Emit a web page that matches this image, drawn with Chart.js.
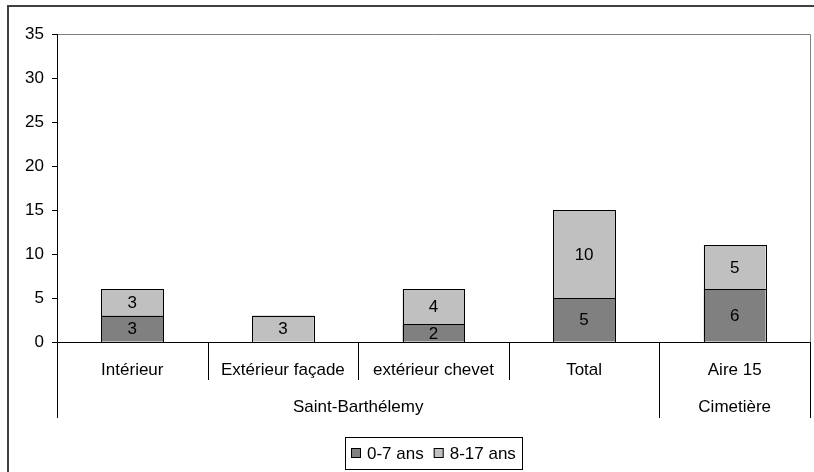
<!DOCTYPE html>
<html>
<head>
<meta charset="utf-8">
<script src="https://cdn.jsdelivr.net/npm/chart.js@4"></script>
<style>
  body { margin: 0; background: #fff; }
</style>
</head>
<body>
<canvas id="chart" width="814" height="472"></canvas>
<script>
// data
const categories = ['Intérieur', 'Extérieur façade', 'extérieur chevet', 'Total', 'Aire 15'];
const groups = ['Saint-Barthélemy', 'Cimetière'];
const groupSpans = [4, 1];
const seriesNames = ['0-7 ans', '8-17 ans'];
const young = [3, 0, 2, 5, 6];
const older = [3, 3, 4, 10, 5];
const yMax = 35;
const yStep = 5;

const FONT = "'Liberation Sans', Arial, sans-serif";
const FS = 17;

// frame, category axis with groups, value labels and boxed legend
const extras = {
  id: 'extras',
  beforeDraw(chart) {
    const c = chart.ctx, a = chart.chartArea;
    c.save();
    c.fillStyle = '#fff';
    c.fillRect(0, 0, chart.width, chart.height);
    c.strokeStyle = '#404040';
    c.lineWidth = 2;
    c.strokeRect(8, 6, chart.width + 10, chart.height + 10);
    c.strokeStyle = '#808080';
    c.lineWidth = 1;
    c.beginPath();
    c.moveTo(a.left, Math.round(a.top) + 0.5);
    c.lineTo(Math.round(a.right) + 0.5, Math.round(a.top) + 0.5);
    c.lineTo(Math.round(a.right) + 0.5, a.bottom);
    c.stroke();
    c.restore();
  },
  afterDatasetsDraw(chart) {
    const c = chart.ctx;
    c.save();
    // crisp black outlines round each bar segment
    c.strokeStyle = '#000';
    c.lineWidth = 1;
    chart.data.datasets.forEach((ds, i) => {
      chart.getDatasetMeta(i).data.forEach((bar, j) => {
        if (!ds.data[j]) return;
        const l = Math.round(bar.x - bar.width / 2), r = Math.round(bar.x + bar.width / 2);
        const t = Math.round(Math.min(bar.y, bar.base)), b = Math.round(Math.max(bar.y, bar.base));
        c.strokeRect(l + 0.5, t + 0.5, r - l, b - t);
      });
    });
    c.font = FS + 'px ' + FONT;
    c.fillStyle = '#000';
    c.textAlign = 'center';
    c.textBaseline = 'middle';
    chart.data.datasets.forEach((ds, i) => {
      chart.getDatasetMeta(i).data.forEach((bar, j) => {
        const v = ds.data[j];
        if (!v) return;
        c.fillText(String(v), bar.x, (bar.y + bar.base) / 2 + 1);
      });
    });
    c.restore();
  },
  afterDraw(chart) {
    const c = chart.ctx, a = chart.chartArea, xs = chart.scales.x;
    const n = categories.length;
    const px = i => xs.getPixelForValue(i);
    const bounds = [];
    for (let k = 0; k <= n; k++) {
      if (k === 0) bounds.push(a.left);
      else if (k === n) bounds.push(a.right);
      else bounds.push((px(k - 1) + px(k)) / 2);
    }
    const groupEdges = [0];
    groupSpans.forEach(s => groupEdges.push(groupEdges[groupEdges.length - 1] + s));

    c.save();
    c.strokeStyle = '#000';
    c.lineWidth = 1;
    bounds.forEach((b, k) => {
      const x = Math.round(b) + 0.5;
      const end = groupEdges.includes(k) ? 418 : 380;
      c.beginPath();
      c.moveTo(x, a.bottom);
      c.lineTo(x, end);
      c.stroke();
    });

    c.font = FS + 'px ' + FONT;
    c.fillStyle = '#000';
    c.textAlign = 'center';
    c.textBaseline = 'middle';
    categories.forEach((lab, i) => c.fillText(lab, px(i), 370));
    groups.forEach((g, i) => {
      const x = (bounds[groupEdges[i]] + bounds[groupEdges[i + 1]]) / 2;
      c.fillText(g, x, 407);
    });

    // legend
    const pad = 6, sq = 10, gap = 6, between = 10;
    const widths = seriesNames.map(s => c.measureText(s).width);
    const total = pad * 2 + widths.reduce((s, w) => s + sq + gap + w, 0) + between;
    const cx = (a.left + a.right) / 2;
    const left = Math.round(cx - total / 2);
    const top = 437, h = 32, cy = top + h / 2;
    c.strokeRect(left + 0.5, top + 0.5, Math.round(total), h);
    let x = left + pad;
    c.textAlign = 'left';
    chart.data.datasets.forEach((ds, i) => {
      c.fillStyle = ds.backgroundColor;
      c.fillRect(x, cy - sq / 2, sq, sq);
      c.strokeRect(x + 0.5, cy - sq / 2 + 0.5, sq - 1, sq - 1);
      c.fillStyle = '#000';
      c.fillText(seriesNames[i], x + sq + gap, cy + 1);
      x += sq + gap + widths[i] + between;
    });
    c.restore();
  }
};

new Chart(document.getElementById('chart'), {
  type: 'bar',
  data: {
    labels: categories,
    datasets: [
      { label: seriesNames[0], data: young, backgroundColor: '#808080' },
      { label: seriesNames[1], data: older, backgroundColor: '#c0c0c0' }
    ]
  },
  options: {
    responsive: false,
    animation: false,
    layout: { padding: { top: 34, right: 4, left: 0, bottom: 0 } },
    datasets: {
      bar: {
        borderWidth: 0,
        categoryPercentage: 1,
        barPercentage: 0.41
      }
    },
    plugins: {
      legend: { display: false },
      tooltip: { enabled: false }
    },
    scales: {
      x: {
        stacked: true,
        grid: { display: false },
        border: { display: true, color: '#000' },
        ticks: { display: false },
        afterFit(scale) { scale.height = 130; }
      },
      y: {
        stacked: true,
        min: 0,
        max: yMax,
        ticks: {
          stepSize: yStep,
          color: '#000',
          padding: 8,
          font: { family: FONT, size: FS }
        },
        grid: { display: true, drawOnChartArea: false, drawTicks: true, tickLength: 5, color: '#000' },
        border: { display: true, color: '#000' },
        afterFit(scale) { scale.width = 57; }
      }
    }
  },
  plugins: [extras]
});
</script>
</body>
</html>
